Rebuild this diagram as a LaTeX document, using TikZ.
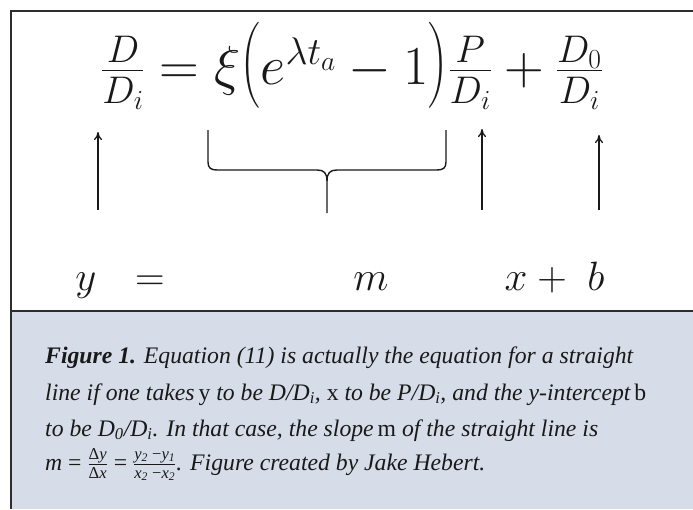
\RequirePackage{fix-cm}
\documentclass[tikz,border=0pt]{standalone}
\usepackage{amsmath}
\usepackage{graphicx}
\usepackage[no-math]{fontspec}
\setmainfont{Liberation Serif}
\usetikzlibrary{arrows.meta}
\definecolor{capfill}{RGB}{214,220,232}
\definecolor{framecol}{RGB}{45,45,45}
\definecolor{inkcol}{RGB}{25,25,25}
\newcommand{\capfrac}[2]{\ensuremath{\frac{\text{#1}}{\text{#2}}}}
\newcommand{\tallL}{\mathopen{\raisebox{3pt}{\scalebox{1}[1.15]{$\bigl($}}}}
\newcommand{\tallR}{\mathclose{\raisebox{3pt}{\scalebox{1}[1.15]{$\bigr)$}}}}
\tikzset{
  frameline/.style={draw=framecol,line width=1.5pt},
  eqfont/.style={font=\fontsize{55}{62}\selectfont,inner sep=0pt,text=inkcol},
  botm/.style={anchor=base,inner sep=0pt,text=inkcol,font=\fontsize{41}{48}\selectfont},
  upar/.style={draw=inkcol,line width=1.3pt,-{To[length=8pt,width=8pt]}},
  bracepath/.style={draw=inkcol,line width=1.4pt},
  capline/.style={anchor=base west,inner sep=0pt,text=inkcol,font=\fontsize{23.7}{28}\selectfont\itshape}
}
\begin{document}
\begin{tikzpicture}[x=1pt,y=-1pt]
\useasboundingbox (0,0) rectangle (693,509);
\fill[white] (0,0) rectangle (693,509);
% caption panel
\fill[capfill] (11,311) rectangle (693,509);
\draw[frameline] (11,311) -- (693,311);
\draw[frameline] (693,11) -- (11,11) -- (11,509);
% equation
\node[eqfont,anchor=base] (eq) at (352,84.5)
  {$\frac{D}{D_i} = \xi\tallL e^{\lambda t_a} - 1\tallR\frac{P}{D_i} + \frac{D_0}{D_i}$};
% bottom row
\node[botm] (ly) at (86,290) {$y$};
\node[botm] (leq) at (150,290) {$=$};
\node[botm] (lm) at (371,290) {$m$};
\node[botm] (lx) at (516,290) {$x$};
\node[botm] (lplus) at (552,290) {$+$};
\node[botm] (lb) at (596,290) {$b$};
% arrows
\coordinate (a1s) at (98,210);  \coordinate (a1e) at (98,132);
\coordinate (a3s) at (482,210); \coordinate (a3e) at (482,129);
\coordinate (a4s) at (599,210); \coordinate (a4e) at (599,135);
\draw[upar] (a1s) -- (a1e);
\draw[upar] (a3s) -- (a3e);
\draw[upar] (a4s) -- (a4e);
% brace
\coordinate (bl) at (208,130);
\coordinate (br) at (446,130);
\coordinate (bt) at (327,213);
\draw[bracepath] (bl) -- (208,162) .. controls (208,168) and (211,170) .. (217,170)
  -- (317,170) .. controls (324,170) and (327,173) .. (327,181) -- (bt);
\draw[bracepath] (br) -- (446,162) .. controls (446,168) and (443,170) .. (437,170)
  -- (337,170) .. controls (330,170) and (327,173) .. (327,181);
% caption
\node[capline] (c1) at (45,363) {\textbf{Figure 1.} Equation (11) is actually the equation for a straight};
\node[capline] (c2) at (45,400) {line if one takes\,{\upshape y} to be D/D\textsubscript{i}, {\upshape x} to be P/D\textsubscript{i}, and the y-intercept\,{\upshape b}};
\node[capline] (c3) at (45,436) {to be D\textsubscript{0}/D\textsubscript{i}. In that case, the slope\,{\upshape m} of the straight line is};
\node[capline] (c4) at (45,470) {m {\upshape =} \capfrac{{\upshape Δ}\itshape y}{{\upshape Δ}\itshape x} {\upshape =} \capfrac{\itshape y\textsubscript{2} \upshape−\itshape y\textsubscript{1}}{\itshape x\textsubscript{2} \upshape−\itshape x\textsubscript{2}}. Figure created by Jake Hebert.};
\end{tikzpicture}
\end{document}
